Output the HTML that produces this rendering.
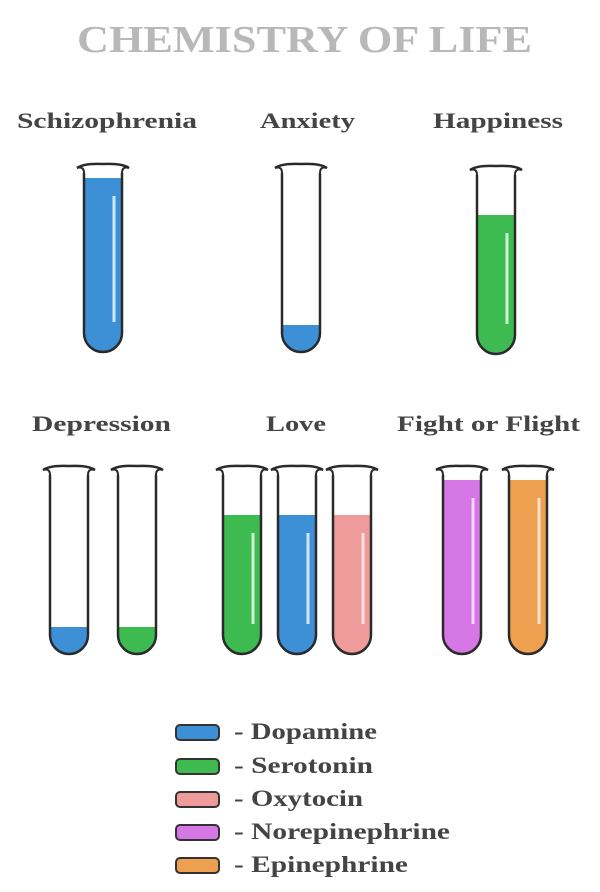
<!DOCTYPE html>
<html><head><style>
body{margin:0;background:#fff;}
svg{display:block;}
.t{font-family:"Liberation Serif",serif;font-weight:bold;}
</style></head><body>
<svg width="600" height="892" viewBox="0 0 600 892" xmlns="http://www.w3.org/2000/svg">
<defs>
<g id="tb" fill="none" stroke="#2a2a2a">
<path d="M-19,8 L-19,168 A19 19 0 0 0 19,168 L19,8" stroke-width="2.5"/>
<path d="M-26,3 Q-19,-2 0,-1 Q19,-2 26,3" stroke-width="2.5"/>
<path d="M-26,3 Q-19,1 -19,8 M26,3 Q19,1 19,8" stroke-width="2"/>
</g>
</defs>
<text x="77" y="52" textLength="455" lengthAdjust="spacingAndGlyphs" class="t" font-size="38" fill="#b8b8b8">CHEMISTRY OF LIFE</text>
<g class="t" font-size="22" fill="#444">
<text x="17" y="128" textLength="180" lengthAdjust="spacingAndGlyphs">Schizophrenia</text>
<text x="260" y="128" textLength="95" lengthAdjust="spacingAndGlyphs">Anxiety</text>
<text x="433" y="128" textLength="130" lengthAdjust="spacingAndGlyphs">Happiness</text>
<text x="32" y="431" textLength="139" lengthAdjust="spacingAndGlyphs">Depression</text>
<text x="266" y="431" textLength="60" lengthAdjust="spacingAndGlyphs">Love</text>
<text x="397" y="431" textLength="183" lengthAdjust="spacingAndGlyphs">Fight or Flight</text>
</g>

<g transform="translate(103,165)"><path d="M-19,13 L-19,168 A19 19 0 0 0 19,168 L19,13Z" fill="#3d8fd6"/><line x1="11" y1="31" x2="11" y2="157" stroke="#cfe6fa" stroke-width="3"/><use href="#tb"/></g>
<g transform="translate(301,165)"><path d="M-19,160 L-19,168 A19 19 0 0 0 19,168 L19,160Z" fill="#3d8fd6"/><use href="#tb"/></g>
<g transform="translate(496,167)"><path d="M-19,48 L-19,168 A19 19 0 0 0 19,168 L19,48Z" fill="#3dbb50"/><line x1="11" y1="66" x2="11" y2="157" stroke="#d0f0d4" stroke-width="3"/><use href="#tb"/></g>

<g transform="translate(69,467)"><path d="M-19,160 L-19,168 A19 19 0 0 0 19,168 L19,160Z" fill="#3d8fd6"/><use href="#tb"/></g>
<g transform="translate(137,467)"><path d="M-19,160 L-19,168 A19 19 0 0 0 19,168 L19,160Z" fill="#3dbb50"/><use href="#tb"/></g>
<g transform="translate(242,467)"><path d="M-19,48 L-19,168 A19 19 0 0 0 19,168 L19,48Z" fill="#3dbb50"/><line x1="11" y1="66" x2="11" y2="157" stroke="#d0f0d4" stroke-width="3"/><use href="#tb"/></g>
<g transform="translate(297,467)"><path d="M-19,48 L-19,168 A19 19 0 0 0 19,168 L19,48Z" fill="#3d8fd6"/><line x1="11" y1="66" x2="11" y2="157" stroke="#cfe6fa" stroke-width="3"/><use href="#tb"/></g>
<g transform="translate(352,467)"><path d="M-19,48 L-19,168 A19 19 0 0 0 19,168 L19,48Z" fill="#ef9b9b"/><line x1="11" y1="66" x2="11" y2="157" stroke="#fbe0e0" stroke-width="3"/><use href="#tb"/></g>
<g transform="translate(462,467)"><path d="M-19,13 L-19,168 A19 19 0 0 0 19,168 L19,13Z" fill="#d677e6"/><line x1="11" y1="31" x2="11" y2="157" stroke="#f3d6f8" stroke-width="3"/><use href="#tb"/></g>
<g transform="translate(528,467)"><path d="M-19,13 L-19,168 A19 19 0 0 0 19,168 L19,13Z" fill="#eda050"/><line x1="11" y1="31" x2="11" y2="157" stroke="#fae3c8" stroke-width="3"/><use href="#tb"/></g>

<g stroke="#333" stroke-width="2">
<rect x="176" y="725" width="43" height="15" rx="4" fill="#3d8fd6"/>
<rect x="176" y="759" width="43" height="15" rx="4" fill="#3dbb50"/>
<rect x="176" y="792" width="43" height="15" rx="4" fill="#ef9b9b"/>
<rect x="176" y="825" width="43" height="15" rx="4" fill="#d677e6"/>
<rect x="176" y="858" width="43" height="15" rx="4" fill="#eda050"/>
</g>
<g class="t" font-size="23" fill="#444">
<text x="234" y="739" textLength="143" lengthAdjust="spacingAndGlyphs">- Dopamine</text>
<text x="234" y="773" textLength="139" lengthAdjust="spacingAndGlyphs">- Serotonin</text>
<text x="234" y="806" textLength="129" lengthAdjust="spacingAndGlyphs">- Oxytocin</text>
<text x="234" y="839" textLength="216" lengthAdjust="spacingAndGlyphs">- Norepinephrine</text>
<text x="234" y="872" textLength="174" lengthAdjust="spacingAndGlyphs">- Epinephrine</text>
</g>
</svg>
</body></html>
